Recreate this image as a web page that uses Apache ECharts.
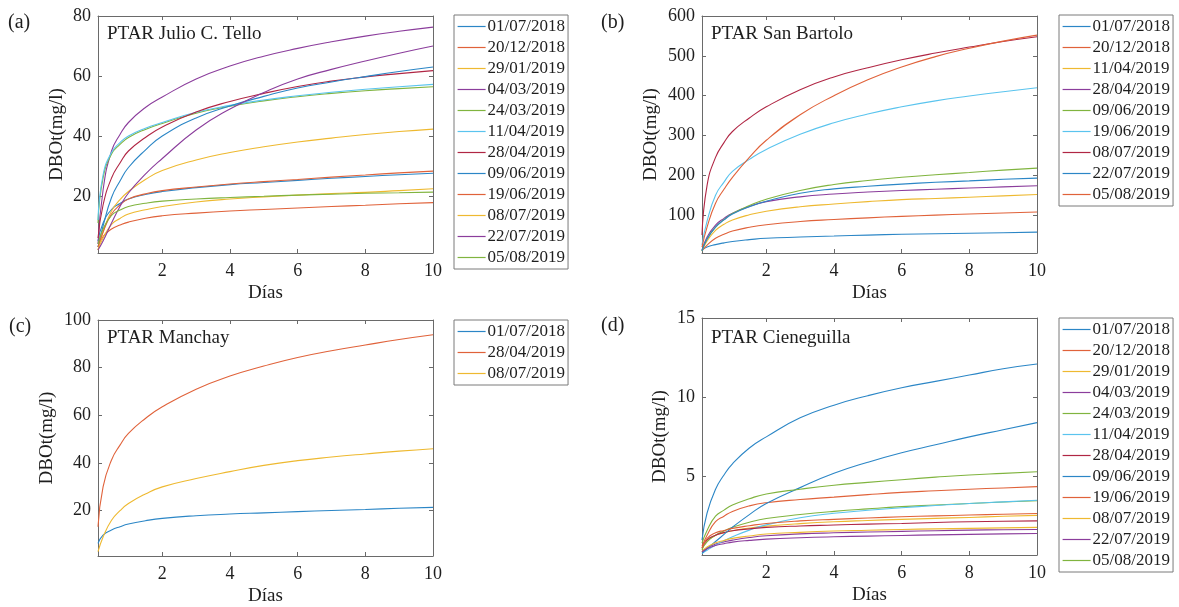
<!DOCTYPE html>
<html>
<head>
<meta charset="utf-8">
<script src="https://cdn.jsdelivr.net/npm/echarts@6/dist/echarts.min.js"></script>
<style>
html,body{margin:0;padding:0;background:#fff;}
#chart{width:1179px;height:607px;}
</style>
</head>
<body>
<div id="chart"></div>
<script>
// ---------- data ----------
const days = [0.1, 0.25, 0.5, 0.75, 1, 1.5, 2, 3, 4, 5, 6, 7, 8, 9, 10];
const xTicks = [2, 4, 6, 8, 10];

const telloDates = ['01/07/2018','20/12/2018','29/01/2019','04/03/2019','24/03/2019','11/04/2019',
                    '28/04/2019','09/06/2019','19/06/2019','08/07/2019','22/07/2019','05/08/2019'];
const telloValues = [
  [5, 11, 15.5, 17.5, 19, 20.5, 21.5, 22.8, 23.8, 24.5, 25.2, 25.9, 26.5, 27.1, 27.6],
  [3, 6.5, 9, 10.3, 11.3, 12.6, 13.4, 14.3, 15, 15.5, 16, 16.5, 16.9, 17.4, 17.8],
  [2, 8, 15, 18.8, 21.5, 25.5, 28.5, 32, 34.5, 36.4, 38, 39.3, 40.5, 41.5, 42.3],
  [4, 22, 35, 40.5, 44.5, 49.5, 53, 59, 63.3, 66.6, 69.2, 71.4, 73.3, 74.9, 76.3],
  [11, 26, 34, 37.2, 39.5, 42.2, 44.2, 47.6, 49.9, 51.7, 53.1, 54.2, 55.1, 55.8, 56.4],
  [12, 27, 34.5, 37.8, 40, 42.6, 44.5, 47.9, 50.2, 52, 53.4, 54.6, 55.6, 56.4, 57.2],
  [6, 17, 26, 31, 35, 39.5, 43, 48, 51.5, 54.2, 56.5, 58.3, 59.7, 60.8, 61.8],
  [3, 10, 19.5, 25, 29.5, 35.3, 40, 46, 50, 53.2, 56, 58, 59.8, 61.5, 63],
  [3, 8, 14, 17, 19, 20.7, 21.8, 23, 24, 24.8, 25.5, 26.3, 27, 27.7, 28.3],
  [2, 6, 10.5, 12.5, 14, 15.4, 16.5, 18, 19, 19.7, 20.3, 20.8, 21.2, 21.8, 22.4],
  [2, 5, 11, 16.5, 21, 27.3, 32.5, 42, 49, 54.5, 59, 62.2, 65, 67.6, 70],
  [4, 9, 13.5, 15.3, 16.5, 17.6, 18.3, 19, 19.5, 19.9, 20.3, 20.6, 20.9, 21.1, 21.3]
];
const telloTicks = [20, 40, 60, 80];

const bartoloDates = ['01/07/2018','20/12/2018','11/04/2019','28/04/2019','09/06/2019','19/06/2019',
                      '08/07/2019','22/07/2019','05/08/2019'];
const bartoloValues = [
  [12, 20, 26, 30.5, 34, 38.5, 42, 45, 47.5, 50, 52, 53.3, 54.5, 56, 57.5],
  [10, 25, 42, 52, 60, 69.5, 76, 84, 89, 93.3, 97, 100, 103, 105.5, 108],
  [10, 35, 62, 77, 88, 101, 110, 121, 128, 134, 139, 142, 145, 148.5, 152],
  [12, 45, 75, 92, 105, 122, 134, 146, 153, 158, 162, 165, 168, 171, 174],
  [10, 40, 70, 89, 104, 124, 140, 162, 177, 187, 195, 201.5, 207, 213, 218],
  [25, 85, 150, 183, 210, 240, 265, 303, 332, 354, 372, 387, 399, 410, 420],
  [50, 175, 245, 282, 310, 344, 372, 415, 447, 470, 490, 507, 522, 536, 548],
  [10, 40, 70, 88, 103, 121, 135, 155, 166, 172.5, 178, 182.5, 186, 190, 193],
  [20, 70, 130, 165, 195, 245, 288, 352, 400, 440, 472, 498, 519, 537, 552]
];
const bartoloTicks = [100, 200, 300, 400, 500, 600];

const manchayDates = ['01/07/2018','28/04/2019','08/07/2019'];
const manchayValues = [
  [6.3, 9.8, 11.9, 13.3, 14.4, 15.8, 16.8, 17.9, 18.6, 19.1, 19.6, 20.1, 20.5, 21, 21.4],
  [13.3, 30, 41.3, 47.5, 52.4, 58.7, 63.6, 71, 76.5, 80.7, 84.3, 87.1, 89.5, 91.8, 93.8],
  [2.8, 9, 16, 20, 23, 27, 30, 33.5, 36.4, 39, 41, 42.5, 43.8, 45, 46]
];
const manchayTicks = [20, 40, 60, 80, 100];

const cieneguillaDates = ['01/07/2018','20/12/2018','29/01/2019','04/03/2019','24/03/2019','11/04/2019',
                          '28/04/2019','09/06/2019','19/06/2019','08/07/2019','22/07/2019','05/08/2019'];
const cieneguillaValues = [
  [1.0, 2.7, 4.2, 5.1, 5.8, 6.8, 7.5, 8.7, 9.5, 10.1, 10.6, 11.0, 11.4, 11.8, 12.1],
  [0.6, 1.3, 2.15, 2.5, 2.8, 3.15, 3.35, 3.55, 3.7, 3.86, 4.0, 4.1, 4.2, 4.28, 4.36],
  [0.4, 0.9, 1.3, 1.45, 1.58, 1.75, 1.87, 2.03, 2.15, 2.23, 2.3, 2.36, 2.42, 2.49, 2.55],
  [0.25, 0.5, 0.74, 0.88, 0.99, 1.15, 1.26, 1.38, 1.45, 1.5, 1.54, 1.58, 1.62, 1.64, 1.66],
  [0.4, 0.9, 1.3, 1.57, 1.8, 2.12, 2.35, 2.6, 2.8, 2.96, 3.1, 3.2, 3.3, 3.39, 3.47],
  [0.15, 0.35, 0.67, 0.95, 1.2, 1.62, 1.95, 2.4, 2.68, 2.87, 3.03, 3.17, 3.3, 3.4, 3.5],
  [0.5, 1.0, 1.3, 1.46, 1.58, 1.7, 1.79, 1.88, 1.94, 2.0, 2.04, 2.1, 2.15, 2.18, 2.2],
  [0.15, 0.45, 0.9, 1.35, 1.8, 2.6, 3.3, 4.3, 5.2, 5.9, 6.5, 7.0, 7.5, 7.95, 8.4],
  [0.5, 1.1, 1.45, 1.6, 1.73, 1.9, 2.04, 2.2, 2.3, 2.38, 2.46, 2.52, 2.57, 2.62, 2.67],
  [0.25, 0.55, 0.82, 0.97, 1.1, 1.25, 1.37, 1.48, 1.56, 1.61, 1.66, 1.7, 1.73, 1.76, 1.79],
  [0.25, 0.45, 0.65, 0.76, 0.86, 0.97, 1.05, 1.14, 1.2, 1.24, 1.28, 1.32, 1.35, 1.38, 1.41],
  [0.8, 1.6, 2.5, 2.88, 3.2, 3.6, 3.9, 4.2, 4.45, 4.63, 4.8, 4.96, 5.1, 5.2, 5.3]
];
const cieneguillaTicks = [5, 10, 15];

// ---------- styling ----------
const palette = ['#2b86c6','#e0623a','#eeb930','#8b3d9c','#80b43f','#5ac4ee','#b02644'];
const FONT = '"Liberation Serif", "Times New Roman", serif';
const AXIS_COLOR = '#6a6a6a';
const TEXT_COLOR = '#1e1e1e';

const panels = [
  { key:'a', label:'(a)', title:'PTAR Julio C. Tello', dates:telloDates, values:telloValues, yTicks:telloTicks,
    ymin:1, ymax:80, grid:{left:98, top:16, width:335, height:237},
    labelPos:{left:8, top:13}, titlePos:{left:107, top:25}, legendPos:{left:454, top:15}, yGap:31 },
  { key:'b', label:'(b)', title:'PTAR San Bartolo', dates:bartoloDates, values:bartoloValues, yTicks:bartoloTicks,
    ymin:5, ymax:600, grid:{left:702, top:16, width:335, height:237},
    labelPos:{left:601, top:13}, titlePos:{left:711, top:25}, legendPos:{left:1059, top:15}, yGap:41 },
  { key:'c', label:'(c)', title:'PTAR Manchay', dates:manchayDates, values:manchayValues, yTicks:manchayTicks,
    ymin:1, ymax:100, grid:{left:98, top:320, width:335, height:237},
    labelPos:{left:9, top:317}, titlePos:{left:107, top:329}, legendPos:{left:454, top:320}, yGap:41 },
  { key:'d', label:'(d)', title:'PTAR Cieneguilla', dates:cieneguillaDates, values:cieneguillaValues, yTicks:cieneguillaTicks,
    ymin:0.05, ymax:15, grid:{left:702, top:318, width:335, height:237},
    labelPos:{left:601, top:316}, titlePos:{left:711, top:329}, legendPos:{left:1059, top:318}, yGap:32 }
];

const grids = [], xAxes = [], yAxes = [], series = [], legends = [], titles = [];

panels.forEach((p, i) => {
  grids.push(Object.assign({ containLabel:false }, p.grid));
  const lineStyle = { color: AXIS_COLOR, width: 1 };
  const labelStyle = { color: TEXT_COLOR, fontFamily: FONT, fontSize: 18 };
  xAxes.push({
    type:'value', gridIndex:i, position:'bottom', min:0.1, max:10,
    axisLine:{ show:true, onZero:false, lineStyle },
    axisTick:{ show:true, inside:true, length:4, customValues:xTicks, lineStyle },
    axisLabel:Object.assign({ customValues:xTicks, margin:9 }, labelStyle),
    splitLine:{ show:false },
    name:'Días', nameLocation:'middle', nameGap:31,
    nameTextStyle:{ color:TEXT_COLOR, fontFamily:FONT, fontSize:19 }
  });
  xAxes.push({
    type:'value', gridIndex:i, position:'top', min:0.1, max:10,
    axisLine:{ show:true, onZero:false, lineStyle },
    axisTick:{ show:true, inside:true, length:4, customValues:xTicks, lineStyle },
    axisLabel:{ show:false }, splitLine:{ show:false }
  });
  yAxes.push({
    type:'value', gridIndex:i, position:'left', min:p.ymin, max:p.ymax,
    axisLine:{ show:true, onZero:false, lineStyle },
    axisTick:{ show:true, inside:true, length:4, customValues:p.yTicks, lineStyle },
    axisLabel:Object.assign({ customValues:p.yTicks, margin:7 }, labelStyle),
    splitLine:{ show:false },
    name:'DBOt(mg/l)', nameLocation:'middle', nameGap:p.yGap,
    nameTextStyle:{ color:TEXT_COLOR, fontFamily:FONT, fontSize:19 }
  });
  yAxes.push({
    type:'value', gridIndex:i, position:'right', min:p.ymin, max:p.ymax,
    axisLine:{ show:true, onZero:false, lineStyle },
    axisTick:{ show:true, inside:true, length:4, customValues:p.yTicks, lineStyle },
    axisLabel:{ show:false }, splitLine:{ show:false }
  });

  const names = [];
  p.dates.forEach((d, k) => {
    const name = p.key + '|' + d;
    names.push(name);
    series.push({
      type:'line', name, xAxisIndex:2*i, yAxisIndex:2*i,
      data: days.map((t, j) => [t, p.values[k][j]]),
      smooth:0.5, symbol:'none', showSymbol:false, silent:true,
      lineStyle:{ width:1.1, color:palette[k % palette.length] },
      itemStyle:{ color:palette[k % palette.length] }
    });
  });

  legends.push({
    data:names, orient:'vertical', left:p.legendPos.left, top:p.legendPos.top,
    padding:[3, 3, 3, 3], itemGap:4, itemWidth:28, itemHeight:14,
    borderColor:'#7a7a7a', borderWidth:1, backgroundColor:'#fff',
    selectedMode:false,
    itemStyle:{ opacity:0, borderWidth:0 },
    lineStyle:{ width:1.2 },
    formatter: n => n.split('|')[1],
    textStyle:{ color:TEXT_COLOR, fontFamily:FONT, fontSize:17, lineHeight:17, padding:[0,0,0,-3] }
  });

  titles.push({ text:p.label, left:p.labelPos.left, top:p.labelPos.top, padding:0,
    textStyle:{ color:TEXT_COLOR, fontFamily:FONT, fontSize:20, fontWeight:'normal' } });
  titles.push({ text:p.title, left:p.titlePos.left, top:p.titlePos.top, padding:0,
    textStyle:{ color:TEXT_COLOR, fontFamily:FONT, fontSize:19, fontWeight:'normal' } });
});

const chart = echarts.init(document.getElementById('chart'), null, { renderer:'canvas' });
chart.setOption({
  backgroundColor:'#ffffff',
  animation:false,
  title:titles,
  grid:grids,
  xAxis:xAxes,
  yAxis:yAxes,
  legend:legends,
  series
});
</script>
</body>
</html>
